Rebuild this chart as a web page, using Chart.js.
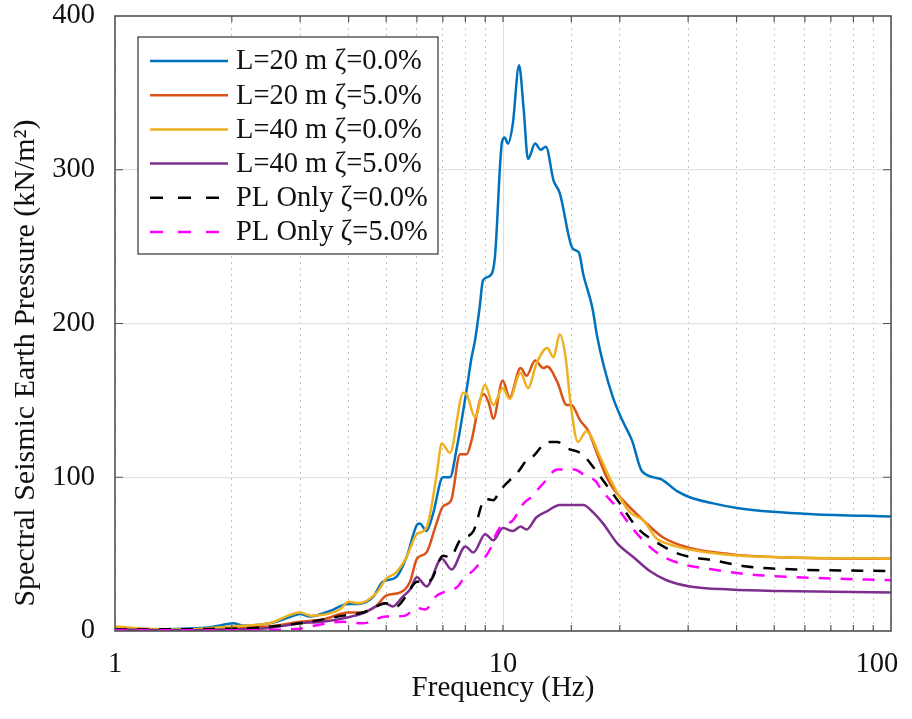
<!DOCTYPE html>
<html>
<head>
<meta charset="utf-8">
<script src="https://cdn.jsdelivr.net/npm/chart.js@4.4.1/dist/chart.umd.min.js"></script>
<style>
  html, body { margin: 0; padding: 0; background: #fff; }
  #wrap { width: 912px; height: 719px; }
</style>
</head>
<body>
<div id="wrap"><canvas id="myChart"></canvas></div>
<script>
// L=20 m, zeta=0.0%
var l20z0Freq = [1, 1.2, 1.5, 1.76, 1.95, 2.02, 2.14, 2.5, 2.82, 3.0, 3.18, 3.58, 3.99, 4.23, 4.62, 4.9, 5.3, 5.64, 6.0, 6.1, 6.35, 6.6, 7.0, 7.3, 7.6, 8.06, 8.3, 8.47, 8.7, 8.88, 9.25, 9.53, 9.94, 10.1, 10.3, 10.6, 11.0, 11.3, 11.6, 12.1, 12.5, 12.9, 13.5, 14.0, 15.1, 15.7, 16.1, 17.0, 17.5, 18.2, 19.2, 20.3, 21.5, 22.8, 25.4, 28.1, 30.3, 34.8, 40.1, 49.6, 62.9, 100];
var l20z0 = [2, 1, 1.5, 2.5, 4.5, 5, 3.5, 5, 9, 11, 9.5, 13, 17.5, 17.5, 22, 32, 35, 48, 69, 70, 65, 76, 100, 100, 119, 157, 178, 189, 210, 228, 231, 243, 318, 321, 317, 330, 368, 340, 307, 317, 313, 315, 293, 285, 249, 246, 232, 210, 191, 172, 152, 137, 124, 104, 99, 91, 87, 83, 80, 77.5, 76, 74.5];

// L=20 m, zeta=5.0%
var l20z5Freq = [1, 1.5, 2.0, 2.5, 3.0, 3.43, 4.0, 4.3, 4.7, 5.0, 5.42, 5.76, 6.0, 6.35, 6.7, 7.0, 7.35, 7.75, 8.06, 8.3, 8.72, 8.93, 9.2, 9.44, 9.98, 10.4, 11.1, 11.5, 12.1, 12.7, 13.0, 13.8, 14.6, 15.0, 15.8, 16.6, 17.5, 18.5, 19.2, 20.4, 23, 25.8, 30.3, 38.5, 51.5, 100];
var l20z5 = [1, 0.5, 2.5, 3, 6, 7.5, 12, 12, 16, 23, 25, 32, 47, 51, 68, 81, 85, 115, 115, 124, 150, 154, 148, 138, 163, 152, 171, 166, 176, 171, 172, 162, 147, 147, 137, 130, 115, 100, 93, 85, 72, 61, 54, 50, 48, 47];

// L=40 m, zeta=0.0%
var l40z0Freq = [1, 1.2, 1.5, 2.0, 2.5, 3.0, 3.2, 3.8, 4.0, 4.23, 4.73, 5.0, 5.3, 5.64, 6.0, 6.35, 6.75, 6.95, 7.3, 7.9, 8.06, 8.47, 8.99, 9.44, 9.98, 10.4, 11.1, 11.6, 12.2, 13.0, 13.5, 14.0, 14.5, 14.9, 15.6, 16.4, 17.8, 18.8, 20, 21.3, 23, 24.9, 26.4, 30.3, 38.5, 51.5, 100];
var l40z0 = [3, 1.5, 1, 3, 5, 12, 10, 14, 19, 18, 25, 34, 38, 48, 63, 67, 102, 122, 116, 155, 154, 139, 160, 147, 158, 151, 168, 158, 174, 184, 178, 193, 178, 150, 123, 130, 113, 100, 87, 77, 72, 60, 57, 53, 49.5, 48, 47];

// L=40 m, zeta=5.0%
var l40z5Freq = [1, 1.5, 2, 2.5, 3, 3.43, 4, 4.35, 4.97, 5.2, 5.5, 5.76, 6.0, 6.35, 6.95, 7.37, 8.0, 8.39, 9.0, 9.44, 10.0, 10.6, 11.1, 11.5, 12.2, 13.0, 14.0, 15.2, 16.1, 17.1, 18.1, 19.7, 21.7, 23.9, 26.4, 30.3, 38.5, 51.5, 100];
var l40z5 = [1, 0.5, 1, 2, 5, 6, 9, 11.5, 18, 16, 22, 27, 35, 29, 47, 40, 55, 51, 63, 59, 67, 65, 68, 66, 74, 78, 82, 82, 82, 77, 70, 57, 48, 39, 33, 29, 27, 26, 25];

// PL only, zeta=0.0%
var plz0Freq = [1, 2, 3, 3.87, 4.35, 4.62, 5.0, 5.32, 5.6, 6.0, 6.5, 7.0, 7.3, 7.75, 8.39, 9.0, 9.44, 9.8, 10.4, 10.9, 11.5, 12.0, 13.0, 13.8, 14.6, 16.0, 16.8, 18.1, 20, 22.2, 24.4, 28.5, 34.8, 42.5, 57, 100];
var plz0 = [1, 1.5, 5, 10, 12, 15, 18, 16, 22, 32, 33, 49, 48, 59, 65, 86, 85, 91, 98, 103, 111, 114, 123, 123, 119, 115, 109, 98, 83, 67, 59, 50, 46, 42, 40, 39];

// PL only, zeta=5.0%
var plz5Freq = [1, 2, 3, 3.2, 3.87, 4.35, 5.0, 5.3, 5.6, 6.0, 6.3, 6.75, 7.0, 7.65, 7.86, 8.5, 9.3, 9.6, 9.8, 10.6, 11.3, 11.8, 12.7, 13.8, 14.3, 15.3, 16.1, 17.4, 17.8, 19.7, 22.2, 24.9, 28.5, 34.8, 42.5, 57, 100];
var plz5 = [0.5, 0.5, 1.5, 3, 6, 5, 9.5, 9.5, 10, 15, 14, 23, 25, 29, 33, 41, 54, 63, 67, 72, 83, 87, 96, 105, 105, 105, 102, 97, 93, 80, 63, 51, 44, 40, 37, 35, 33];

var seriesLabels = ["L=20 m ζ=0.0%", "L=20 m ζ=5.0%", "L=40 m ζ=0.0%", "L=40 m ζ=5.0%", "PL Only ζ=0.0%", "PL Only ζ=5.0%"];
var seriesColors = ["#0072BD", "#D95319", "#EDB120", "#7E2F8E", "#000000", "#FF00FF"];
var xTickLabels = [1, 10, 100];
var yTicks = [0, 100, 200, 300, 400];

var FONT = "'Liberation Serif', 'Times New Roman', serif";

function pairs(xs, ys) {
  var out = [];
  for (var i = 0; i < xs.length; i++) out.push({x: xs[i], y: ys[i]});
  return out;
}

var allData = [
  pairs(l20z0Freq, l20z0),
  pairs(l20z5Freq, l20z5),
  pairs(l40z0Freq, l40z0),
  pairs(l40z5Freq, l40z5),
  pairs(plz0Freq, plz0),
  pairs(plz5Freq, plz5)
];

var datasets = allData.map(function (d, i) {
  return {
    label: seriesLabels[i],
    data: d,
    borderColor: seriesColors[i],
    backgroundColor: seriesColors[i],
    borderWidth: 2.5,
    borderDash: i >= 4 ? [12, 10] : [],
    pointRadius: 0,
    fill: false,
    cubicInterpolationMode: "monotone"
  };
}).reverse();

// frame, inner tick marks, y title and boxed legend
var decorations = {
  id: "decorations",
  afterDatasetsDraw: function (chart) {
    var ctx = chart.ctx, a = chart.chartArea;
    var xs = chart.scales.x, ys = chart.scales.y;
    ctx.save();
    ctx.strokeStyle = "#555";
    ctx.lineWidth = 1.2;
    ctx.beginPath();
    xs.ticks.forEach(function (t) {
      var px = xs.getPixelForValue(t.value);
      if (px <= a.left + 1 || px >= a.right - 1) return;
      ctx.moveTo(px, a.bottom); ctx.lineTo(px, a.bottom - 6);
      ctx.moveTo(px, a.top); ctx.lineTo(px, a.top + 6);
    });
    yTicks.forEach(function (v) {
      var py = ys.getPixelForValue(v);
      if (py <= a.top + 1 || py >= a.bottom - 1) return;
      ctx.moveTo(a.left, py); ctx.lineTo(a.left + 8, py);
      ctx.moveTo(a.right, py); ctx.lineTo(a.right - 8, py);
    });
    ctx.stroke();
    ctx.lineWidth = 1.6;
    ctx.strokeRect(a.left, a.top, a.right - a.left, a.bottom - a.top);
    ctx.restore();
  },
  afterDraw: function (chart) {
    var ctx = chart.ctx, a = chart.chartArea;
    ctx.save();
    // y axis title
    ctx.translate(26, 363);
    ctx.rotate(-Math.PI / 2);
    ctx.font = "30px " + FONT;
    ctx.fillStyle = "#111";
    ctx.textAlign = "center";
    ctx.textBaseline = "middle";
    ctx.fillText("Spectral Seismic Earth Pressure (kN/m²)", 0, 0);
    ctx.restore();

    // legend box
    var x0 = a.left + 23, y0 = a.top + 21, w = 300, h = 217;
    ctx.save();
    ctx.fillStyle = "#fff";
    ctx.fillRect(x0, y0, w, h);
    ctx.strokeStyle = "#333";
    ctx.lineWidth = 1.2;
    ctx.strokeRect(x0, y0, w, h);
    ctx.font = "28.5px " + FONT;
    ctx.textBaseline = "middle";
    for (var i = 0; i < seriesLabels.length; i++) {
      var y = y0 + 24 + i * 34.2;
      ctx.strokeStyle = seriesColors[i];
      ctx.lineWidth = 2.5;
      ctx.setLineDash(i >= 4 ? [13, 15] : []);
      ctx.beginPath();
      ctx.moveTo(x0 + 12, y);
      ctx.lineTo(x0 + 90, y);
      ctx.stroke();
      ctx.setLineDash([]);
      ctx.fillStyle = "#111";
      ctx.fillText(seriesLabels[i], x0 + 98, y + 1);
    }
    ctx.restore();
  }
};

new Chart(document.getElementById("myChart"), {
  type: "line",
  data: { datasets: datasets },
  options: {
    responsive: true,
    maintainAspectRatio: false,
    animation: false,
    layout: { padding: { left: 0, top: 16, right: 21, bottom: 0 } },
    plugins: {
      legend: { display: false },
      tooltip: { enabled: false }
    },
    scales: {
      x: {
        type: "logarithmic",
        min: 1,
        max: 100,
        afterFit: function (s) {
          s.height = 88;
          s.paddingLeft = 0;
          s.paddingRight = 0;
        },
        border: {
          display: false,
          dash: function (c) {
            if (!c.tick || c.tick.value === 10) return [];
            return [2, 4];
          }
        },
        grid: {
          drawTicks: false,
          lineWidth: 1,
          color: function (c) {
            if (c.tick && c.tick.value === 10) return "#dddddd";
            return "#c4c4c4";
          }
        },
        ticks: {
          autoSkip: false,
          maxRotation: 0,
          padding: 16,
          color: "#111",
          font: { family: FONT, size: 28.5 },
          callback: function (v, i, all) {
            if (xTickLabels.indexOf(v) < 0) return "";
            // last label is pulled in to stay inside the page
            return i === all.length - 1 ? String(v) + "\u00a0\u00a0\u00a0\u00a0" : String(v);
          }
        },
        title: {
          display: true,
          text: "Frequency (Hz)",
          color: "#111",
          font: { family: FONT, size: 29 },
          padding: { bottom: 13 }
        }
      },
      y: {
        min: 0,
        max: 400,
        afterFit: function (s) {
          s.width = 115;
          s.paddingTop = 0;
          s.paddingBottom = 0;
        },
        afterBuildTicks: function (s) {
          s.ticks = yTicks.map(function (v) { return {value: v}; });
        },
        border: { display: false },
        grid: {
          drawTicks: false,
          color: "#e2e2e2",
          lineWidth: 1.2
        },
        ticks: {
          padding: 20,
          color: "#111",
          font: { family: FONT, size: 28.5 }
        }
      }
    }
  },
  plugins: [decorations]
});
</script>
</body>
</html>
